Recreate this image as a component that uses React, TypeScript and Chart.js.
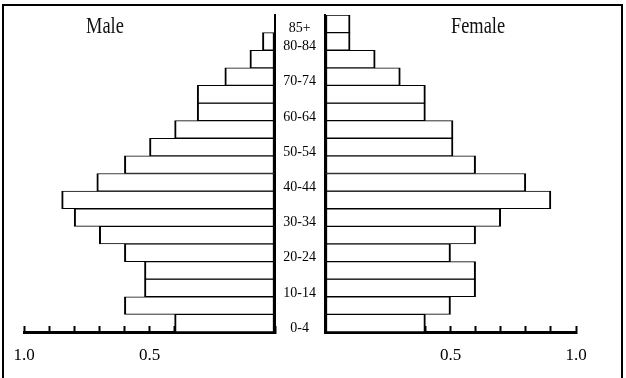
import React, { useEffect, useRef } from 'react';
import { Chart, registerables } from 'chart.js';

Chart.register(...registerables);

// Age groups, bottom (youngest) to top (oldest)
const ageGroups = ['0-4', '5-9', '10-14', '15-19', '20-24', '25-29', '30-34', '35-39', '40-44', '45-49', '50-54', '55-59', '60-64', '65-69', '70-74', '75-79', '80-84', '85+'];
const maleValues = [0.40, 0.60, 0.52, 0.52, 0.60, 0.70, 0.80, 0.85, 0.71, 0.60, 0.50, 0.40, 0.31, 0.31, 0.20, 0.10, 0.05, 0];
const femaleValues = [0.40, 0.50, 0.60, 0.60, 0.50, 0.60, 0.70, 0.90, 0.80, 0.60, 0.51, 0.51, 0.40, 0.40, 0.30, 0.20, 0.10, 0.10];
const shownAgeLabels = ['0-4', '10-14', '20-24', '30-34', '40-44', '50-54', '60-64', '70-74', '80-84', '85+'];
const axisTickValues = [0.5, 1.0];
const axisTickLabels = ['0.5', '1.0'];
const sideTitles = ['Male', 'Female'];

const SERIF = '"Liberation Serif", "Times New Roman", serif';

function tickLabel(value: number): string {
  for (let i = 0; i < axisTickValues.length; i++) {
    if (Math.abs(value - axisTickValues[i]) < 1e-6) return axisTickLabels[i];
  }
  return '';
}

function makeConfig(values: number[], isMale: boolean): any {
  return {
    type: 'bar',
    data: {
      labels: ageGroups,
      datasets: [
        {
          data: values,
          backgroundColor: '#ffffff',
          borderColor: '#000000',
          borderWidth: { top: 1, bottom: 1, left: 2, right: 2 },
          borderSkipped: false,
          barPercentage: 1,
          categoryPercentage: 1,
        },
      ],
    },
    options: {
      indexAxis: 'y',
      responsive: false,
      animation: false,
      layout: {
        padding: isMale
          ? { left: 24, right: 5, top: 15, bottom: 6 }
          : { left: 0, right: 50, top: 15, bottom: 6 },
      },
      plugins: { legend: { display: false }, tooltip: { enabled: false }, title: { display: false } },
      scales: {
        x: {
          type: 'linear',
          reverse: isMale,
          min: 0,
          max: 1,
          ticks: {
            stepSize: 0.1,
            autoSkip: false,
            maxRotation: 0,
            padding: 19,
            color: '#000',
            font: { family: SERIF, size: 17 },
            callback: (v: any) => tickLabel(Number(v)),
          },
          grid: { drawOnChartArea: false, tickLength: -6, tickWidth: 2, tickColor: '#000' },
          border: { display: true, color: '#000', width: 3 },
          afterFit: (s: any) => {
            s.height = 40;
            s.paddingLeft = 0;
            s.paddingRight = 0;
          },
        },
        y: {
          type: 'category',
          position: isMale ? 'right' : 'left',
          reverse: true,
          offset: true,
          grid: { display: false },
          border: { display: true, color: '#000', width: 2 },
          ticks: isMale
            ? { display: false }
            : {
                display: true,
                autoSkip: false,
                crossAlign: 'center',
                padding: 1,
                labelOffset: 5,
                color: '#000',
                font: { family: SERIF, size: 14 },
                callback: (_v: any, i: number) => (shownAgeLabels.includes(ageGroups[i]) ? ageGroups[i] : ''),
              },
          afterFit: (s: any) => {
            s.width = isMale ? 0 : 50;
            s.paddingTop = 0;
            s.paddingBottom = 0;
          },
        },
      },
    },
  };
}

export default function App() {
  const leftRef = useRef<HTMLCanvasElement | null>(null);
  const rightRef = useRef<HTMLCanvasElement | null>(null);

  useEffect(() => {
    const left = new Chart(leftRef.current as HTMLCanvasElement, makeConfig(maleValues, true));
    const right = new Chart(rightRef.current as HTMLCanvasElement, makeConfig(femaleValues, false));
    return () => {
      left.destroy();
      right.destroy();
    };
  }, []);

  const titleStyle = (cx: number): React.CSSProperties => ({
    position: 'absolute',
    left: cx,
    top: 14,
    height: 24,
    lineHeight: '24px',
    fontFamily: SERIF,
    fontSize: 23,
    color: '#111',
    whiteSpace: 'nowrap',
    transform: 'translateX(-50%) scaleX(0.8)',
  });

  return (
    <div style={{ position: 'absolute', left: 0, top: 0, width: 626, height: 378, background: '#fff', overflow: 'hidden' }}>
      <canvas
        ref={leftRef}
        width={280}
        height={378}
        style={{ position: 'absolute', left: 0, top: 0, width: 280, height: 378 }}
      />
      <canvas
        ref={rightRef}
        width={351}
        height={378}
        style={{ position: 'absolute', left: 275, top: 0, width: 351, height: 378 }}
      />
      <div style={titleStyle(105)}>{sideTitles[0]}</div>
      <div style={titleStyle(478)}>{sideTitles[1]}</div>
      <div
        style={{
          position: 'absolute',
          left: 2,
          top: 4,
          width: 621,
          height: 420,
          boxSizing: 'border-box',
          borderLeft: '2px solid #000',
          borderTop: '2px solid #000',
          borderRight: '2px solid #000',
          pointerEvents: 'none',
        }}
      />
    </div>
  );
}
